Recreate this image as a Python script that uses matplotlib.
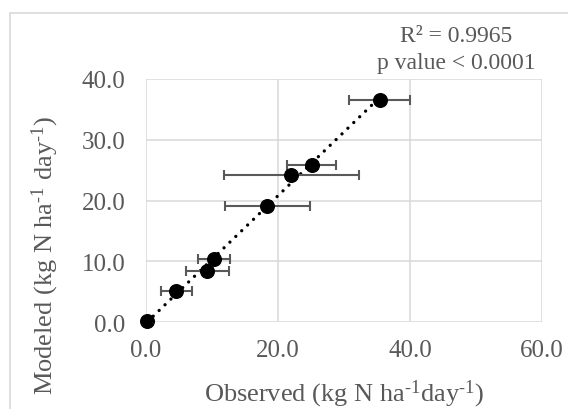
import numpy as np
import matplotlib
matplotlib.use("Agg")
import matplotlib.pyplot as plt
from matplotlib.patches import Rectangle

plt.rcParams['font.family'] = ['Liberation Serif', 'DejaVu Serif']
plt.rcParams['mathtext.fontset'] = 'custom'
plt.rcParams['mathtext.rm'] = 'Liberation Serif'
plt.rcParams['mathtext.it'] = 'Liberation Serif:italic'

observed = [0.2, 4.6, 9.3, 10.3, 18.4, 22.0, 25.1, 35.4]
modeled = [0.2, 5.05, 8.45, 10.4, 19.15, 24.25, 25.85, 36.6]
observed_err = [0.0, 2.3, 3.3, 2.45, 6.5, 10.2, 3.7, 4.6]

x_ticks = [0, 20, 40, 60]
y_ticks = [0, 10, 20, 30, 40]
stats_text = "R² = 0.9965\np value < 0.0001"

text_color = "#595959"
grid_color = "#d9d9d9"

W, H = 568, 410
fig = plt.figure(figsize=(W / 100, H / 100), dpi=100)
ax = fig.add_axes([146 / W, 1 - 323 / H, (542 - 146) / W, (323 - 80) / H])

# chart frame
fig.patches.append(Rectangle((10 / W, -0.1), 1.2, 1 - 14 / H + 0.1,
                             transform=fig.transFigure, fill=False,
                             edgecolor=grid_color, linewidth=1.2))

ax.set_xlim(0, 60)
ax.set_ylim(0, 40)
ax.set_xticks(x_ticks)
ax.set_yticks(y_ticks)
ax.set_xticklabels([f"{v:.1f}" for v in x_ticks])
ax.set_yticklabels([f"{v:.1f}" for v in y_ticks])
ax.grid(True, color=grid_color, linewidth=1.1)
ax.set_axisbelow(True)
for s in ax.spines.values():
    s.set_visible(False)
ax.tick_params(axis="both", length=0, labelsize=18, colors=text_color)
ax.tick_params(axis="x", pad=12)
ax.tick_params(axis="y", pad=15)

# linear trendline
slope, intercept = np.polyfit(observed, modeled, 1)
tx = np.array([min(observed), max(observed)])
ax.plot(tx, slope * tx + intercept, color="black", linewidth=2.4,
        linestyle=(0, (0.01, 2.45)), dash_capstyle="round", zorder=2)

ax.errorbar(observed, modeled, xerr=observed_err, fmt="none",
            ecolor=text_color, elinewidth=1.5, capsize=3.8, capthick=1.5, zorder=3)
ax.plot(observed, modeled, "o", color="black", markersize=9.8, zorder=4, clip_on=False)

sup = r"$^{\mathrm{\text{-}1}}$"
ax.set_xlabel("Observed (kg N ha" + sup + "day" + sup + ")", fontsize=19,
              color=text_color, labelpad=12)
ax.set_ylabel("Modeled (kg N ha" + sup + " day" + sup + ")", fontsize=19,
              color=text_color)
ax.yaxis.set_label_coords(-0.215, 0.28)

fig.text(456 / W, 1 - 50 / H, stats_text, ha="center", va="center",
         fontsize=17, color=text_color, linespacing=1.35)

fig.savefig("out.png", dpi=100)
